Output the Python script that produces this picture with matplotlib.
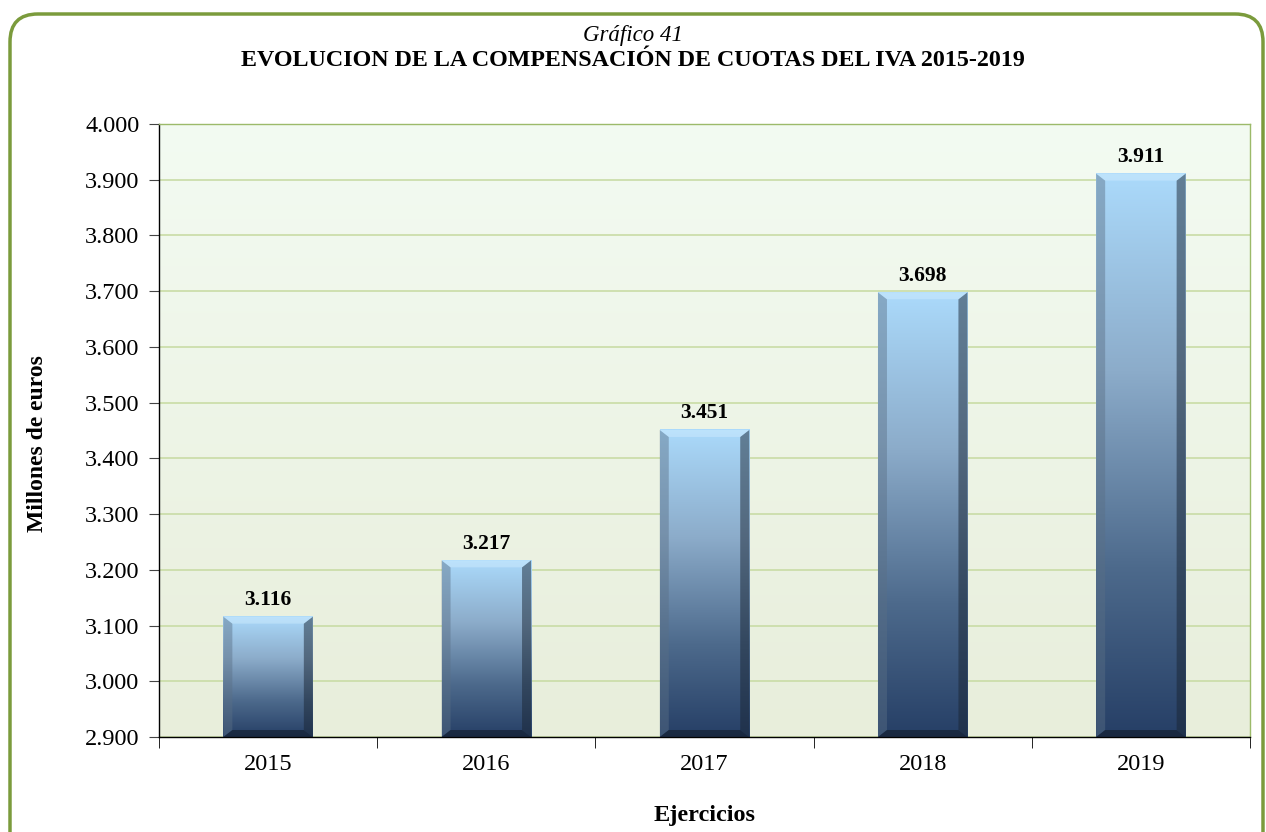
import numpy as np
import matplotlib
matplotlib.use("Agg")
import matplotlib.pyplot as plt
from matplotlib.colors import LinearSegmentedColormap
from matplotlib.patches import FancyBboxPatch, Polygon
from matplotlib.ticker import FuncFormatter, FixedLocator

years = ["2015", "2016", "2017", "2018", "2019"]
values = [3116, 3217, 3451, 3698, 3911]
y_min, y_max = 2900, 4000

plt.rcParams["font.family"] = ["Liberation Serif", "DejaVu Serif"]

fig = plt.figure(figsize=(12.66, 8.32), dpi=100)
ax = fig.add_axes([159 / 1266, 1 - 737 / 832, (1250 - 159) / 1266, (737 - 124) / 832])

# rounded green frame around the chart
frame = FancyBboxPatch((10 / 1266, -0.2), (1263 - 10) / 1266, 1.2 - 14 / 832,
                       boxstyle="round,pad=0,rounding_size=0.022",
                       transform=fig.transFigure, fill=False,
                       edgecolor="#7b9b3c", linewidth=2.5, mutation_aspect=1266 / 832)
fig.patches.append(frame)

# plot area background gradient
bg = LinearSegmentedColormap.from_list("bg", ["#e8eedb", "#f3fbf2"])
ax.imshow(np.linspace(0, 1, 256).reshape(-1, 1), cmap=bg, origin="lower",
          extent=[0, 1, 0, 1], transform=ax.transAxes, aspect="auto", zorder=0)

ax.set_xlim(-0.5, len(years) - 0.5)
ax.set_ylim(y_min, y_max)
ax.yaxis.set_major_locator(FixedLocator(np.arange(y_min, y_max + 1, 100)))
ax.yaxis.set_major_formatter(FuncFormatter(lambda v, p: f"{int(v):,}".replace(",", ".")))
ax.grid(axis="y", color="#c9dca6", linewidth=1.2, zorder=1)
ax.set_axisbelow(True)

bar_cmap = LinearSegmentedColormap.from_list(
    "bar", [(0, "#263f66"), (0.3, "#4d6a8c"), (0.65, "#8cacca"), (1, "#abdafb")])
w = 0.41
px_per_x = ((1250 - 159)) / len(years)
px_per_y = (737 - 124) / (y_max - y_min)
bx = 9 / px_per_x
by = 7 / px_per_y

for i, v in enumerate(values):
    x0, x1 = i - w / 2, i + w / 2
    ax.imshow(np.linspace(0, 1, 256).reshape(-1, 1), cmap=bar_cmap, origin="lower",
              extent=[x0, x1, y_min, v], aspect="auto", zorder=2)
    # bevel edges
    ax.add_patch(Polygon([(x0, y_min), (x0 + bx, y_min + by), (x0 + bx, v - by), (x0, v)],
                         closed=True, facecolor="#5a6f85", alpha=0.45, edgecolor="none", zorder=3))
    ax.add_patch(Polygon([(x1, y_min), (x1 - bx, y_min + by), (x1 - bx, v - by), (x1, v)],
                         closed=True, facecolor="#1a2533", alpha=0.5, edgecolor="none", zorder=3))
    ax.add_patch(Polygon([(x0, y_min), (x1, y_min), (x1 - bx, y_min + by), (x0 + bx, y_min + by)],
                         closed=True, facecolor="#111a28", alpha=0.6, edgecolor="none", zorder=3))
    ax.add_patch(Polygon([(x0, v), (x1, v), (x1 - bx, v - by), (x0 + bx, v - by)],
                         closed=True, facecolor="#d8f0ff", alpha=0.4, edgecolor="none", zorder=3))
    ax.text(i, v + 12, f"{v:,}".replace(",", "."), ha="center", va="bottom",
            fontsize=15.5, fontweight="bold", zorder=4)

ax.set_xticks(range(len(years)))
ax.set_xticklabels(years)
ax.set_xticks(np.arange(-0.5, len(years), 1), minor=True)
ax.tick_params(axis="x", which="major", length=0, pad=12, labelsize=17.5)
ax.tick_params(axis="x", which="minor", length=8, direction="out", color="black")
ax.tick_params(axis="y", length=7, direction="out", labelsize=17.5, pad=7, color="#444444")

for s in ["left", "bottom"]:
    ax.spines[s].set_color("black")
    ax.spines[s].set_linewidth(1.0)
for s in ["top", "right"]:
    ax.spines[s].set_color("#9cba6a")
    ax.spines[s].set_linewidth(1.0)

ax.set_ylabel("Millones de euros", fontsize=17, fontweight="bold", va="center")
ax.yaxis.set_label_coords(-0.111, 0.478)
ax.set_xlabel("Ejercicios", fontsize=17.5, fontweight="bold", labelpad=22)

fig.text(0.5, 1 - 35 / 832, "Gráfico 41", ha="center", va="center", fontsize=16.5, style="italic")
fig.text(0.5, 1 - 61 / 832, "EVOLUCION DE LA COMPENSACIÓN DE CUOTAS DEL IVA 2015-2019",
         ha="center", va="center", fontsize=17.3, fontweight="bold")

fig.savefig("out.png", dpi=100)
